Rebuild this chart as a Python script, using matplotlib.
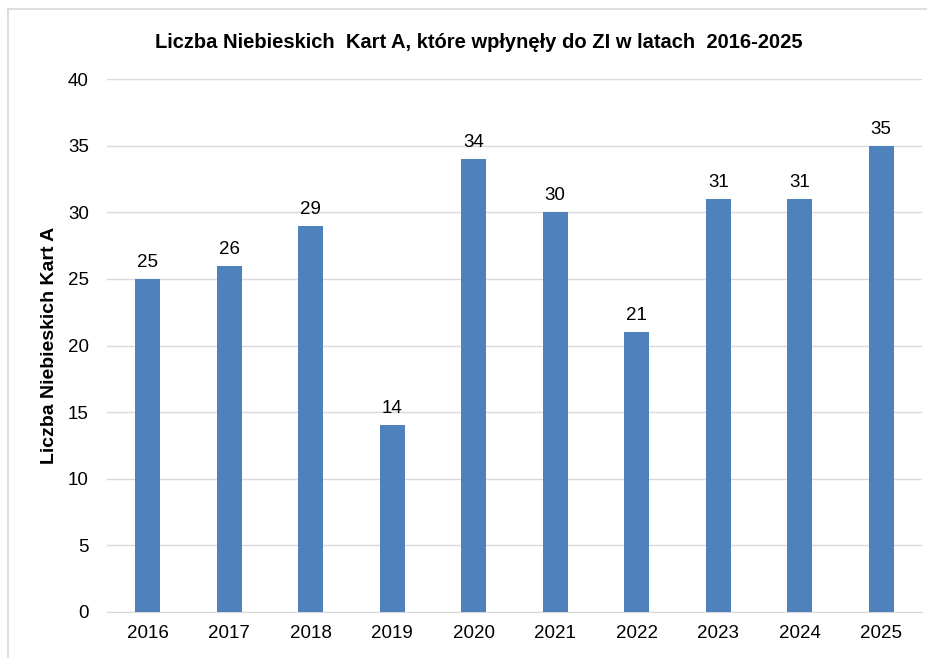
import matplotlib
matplotlib.use("Agg")
import matplotlib.pyplot as plt
from matplotlib import font_manager as fm
from matplotlib.lines import Line2D

years = ["2016", "2017", "2018", "2019", "2020", "2021", "2022", "2023", "2024", "2025"]
values = [25, 26, 29, 14, 34, 30, 21, 31, 31, 35]
yticks = [0, 5, 10, 15, 20, 25, 30, 35, 40]

names = {f.name for f in fm.fontManager.ttflist}
fam = ["Liberation Sans Narrow", "Liberation Sans", "DejaVu Sans"]
fam = [f for f in fam if f in names] + ["DejaVu Sans"]
plt.rcParams['font.family'] = fam

fig = plt.figure(figsize=(9.28, 6.58), dpi=100)
ax = fig.add_axes([107/928, 1 - 612/658, 815/928, (612 - 79)/658])

x = list(range(len(years)))
ax.bar(x, values, width=0.31, color="#4F81BD", zorder=3)
for xi, v in zip(x, values):
    ax.text(xi, v + 0.6, str(v), ha="center", va="bottom", fontsize=13.5, color="#000000")

ax.set_xlim(-0.5, len(years) - 0.5)
ax.set_ylim(0, 40)
ax.set_yticks(yticks)
ax.set_yticklabels([str(t) for t in yticks], fontsize=13.5)
ax.set_xticks(x)
ax.set_xticklabels(years, fontsize=13.5)
ax.tick_params(axis="both", length=0, pad=13)
ax.tick_params(axis="x", pad=9)
ax.yaxis.grid(True, color="#D9D9D9", linewidth=1, zorder=0)
ax.set_axisbelow(True)
for s in ["top", "right", "left"]:
    ax.spines[s].set_visible(False)
ax.spines["bottom"].set_color("#D9D9D9")
ax.set_ylabel("Liczba Niebieskich Kart A", fontsize=14, fontweight="bold", labelpad=7)

fig.text(0.5 * (152 + 805) / 928, 1 - 42 / 658, "Liczba Niebieskich  Kart A, które wpłynęły do ZI w latach  2016-2025",
         ha="center", va="center", fontsize=14.5, fontweight="bold")

fig.add_artist(Line2D([8/928, 8/928], [0, 1 - 9/658], color="#D9D9D9", linewidth=1.2, transform=fig.transFigure))
fig.add_artist(Line2D([8/928, 1], [1 - 9/658, 1 - 9/658], color="#D9D9D9", linewidth=1.2, transform=fig.transFigure))

fig.savefig("out.png", dpi=100)
